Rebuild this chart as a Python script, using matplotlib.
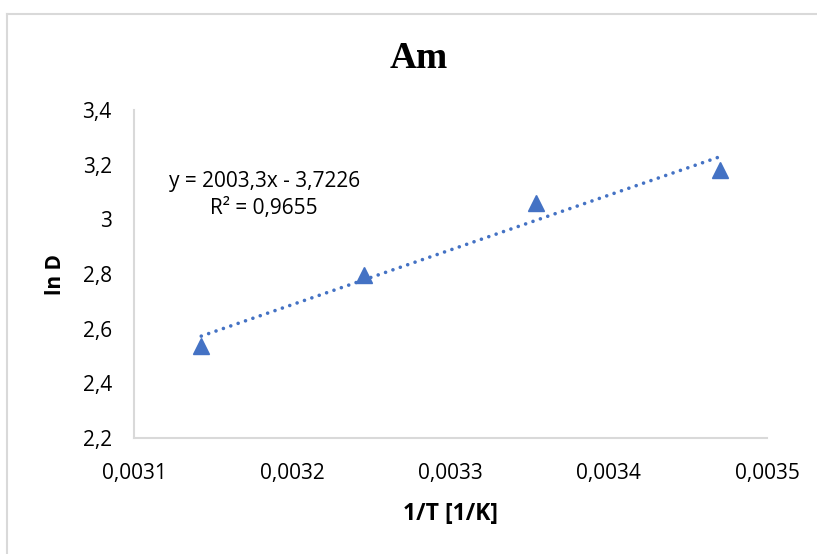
import matplotlib.pyplot as plt
from matplotlib.lines import Line2D
from matplotlib.ticker import FuncFormatter
import numpy as np

inv_t = [0.0031425, 0.003245, 0.003354, 0.003470]
ln_d = [2.535, 2.797, 3.060, 3.180]
fit_slope = 2003.3
fit_intercept = -3.7226
fit_text = ["y = 2003,3x - 3,7226", "R² = 0,9655"]
x_ticks = [0.0031, 0.0032, 0.0033, 0.0034, 0.0035]
y_ticks = [2.2, 2.4, 2.6, 2.8, 3.0, 3.2, 3.4]

blue = '#4472C4'
grey = '#D9D9D9'
tick_font = 'Open Sans'

fig = plt.figure(figsize=(8.17, 5.54), dpi=100)
ax = fig.add_axes([0.164, 0.2094, 0.775, 0.592])

# outer chart frame (only left and top edges are visible)
fig.add_artist(Line2D([7/817, 7/817], [0, 1 - 14/554], color=grey, lw=1.5))
fig.add_artist(Line2D([7/817, 1], [1 - 14/554, 1 - 14/554], color=grey, lw=1.5))

# trendline over the data range
xs = np.array([inv_t[0], inv_t[-1]])
ax.plot(xs, fit_slope * xs + fit_intercept, color=blue, lw=2.6,
        linestyle=(0, (0.01, 2.15)), dash_capstyle='round', zorder=2)
ax.plot(inv_t, ln_d, linestyle='none', marker='^', ms=12, color=blue, zorder=3)

ax.text(0.0031822, 3.137, fit_text[0], ha='center', va='center',
        fontsize=15, family=tick_font)
ax.text(0.0031822, 3.038, fit_text[1], ha='center', va='center',
        fontsize=15, family=tick_font)

ax.set_xlim(0.0031, 0.0035)
ax.set_ylim(2.2, 3.4)
ax.set_xticks(x_ticks)
ax.set_yticks(y_ticks)
ax.xaxis.set_major_formatter(FuncFormatter(lambda v, p: ('%.4f' % v).replace('.', ',')))
ax.yaxis.set_major_formatter(FuncFormatter(lambda v, p: ('%g' % round(v, 1)).replace('.', ',')))
ax.tick_params(length=0, labelsize=15)
ax.tick_params(axis='y', pad=16)
ax.tick_params(axis='x', pad=18)
for lab in ax.get_xticklabels() + ax.get_yticklabels():
    lab.set_family(tick_font)

for s in ['top', 'right']:
    ax.spines[s].set_visible(False)
for s in ['left', 'bottom']:
    ax.spines[s].set_color(grey)
    ax.spines[s].set_linewidth(1.5)

ax.set_xlabel('1/T [1/K]', fontsize=16.5, fontweight='bold', family=tick_font, labelpad=13)
ax.set_ylabel('ln D', fontsize=15, fontweight='bold', family=tick_font, labelpad=12)
fig.text(0.512, 1 - 58/554, 'Am', ha='center', va='center', fontsize=27,
         fontweight='bold', family='Liberation Serif')

fig.savefig('out.png', dpi=100)
